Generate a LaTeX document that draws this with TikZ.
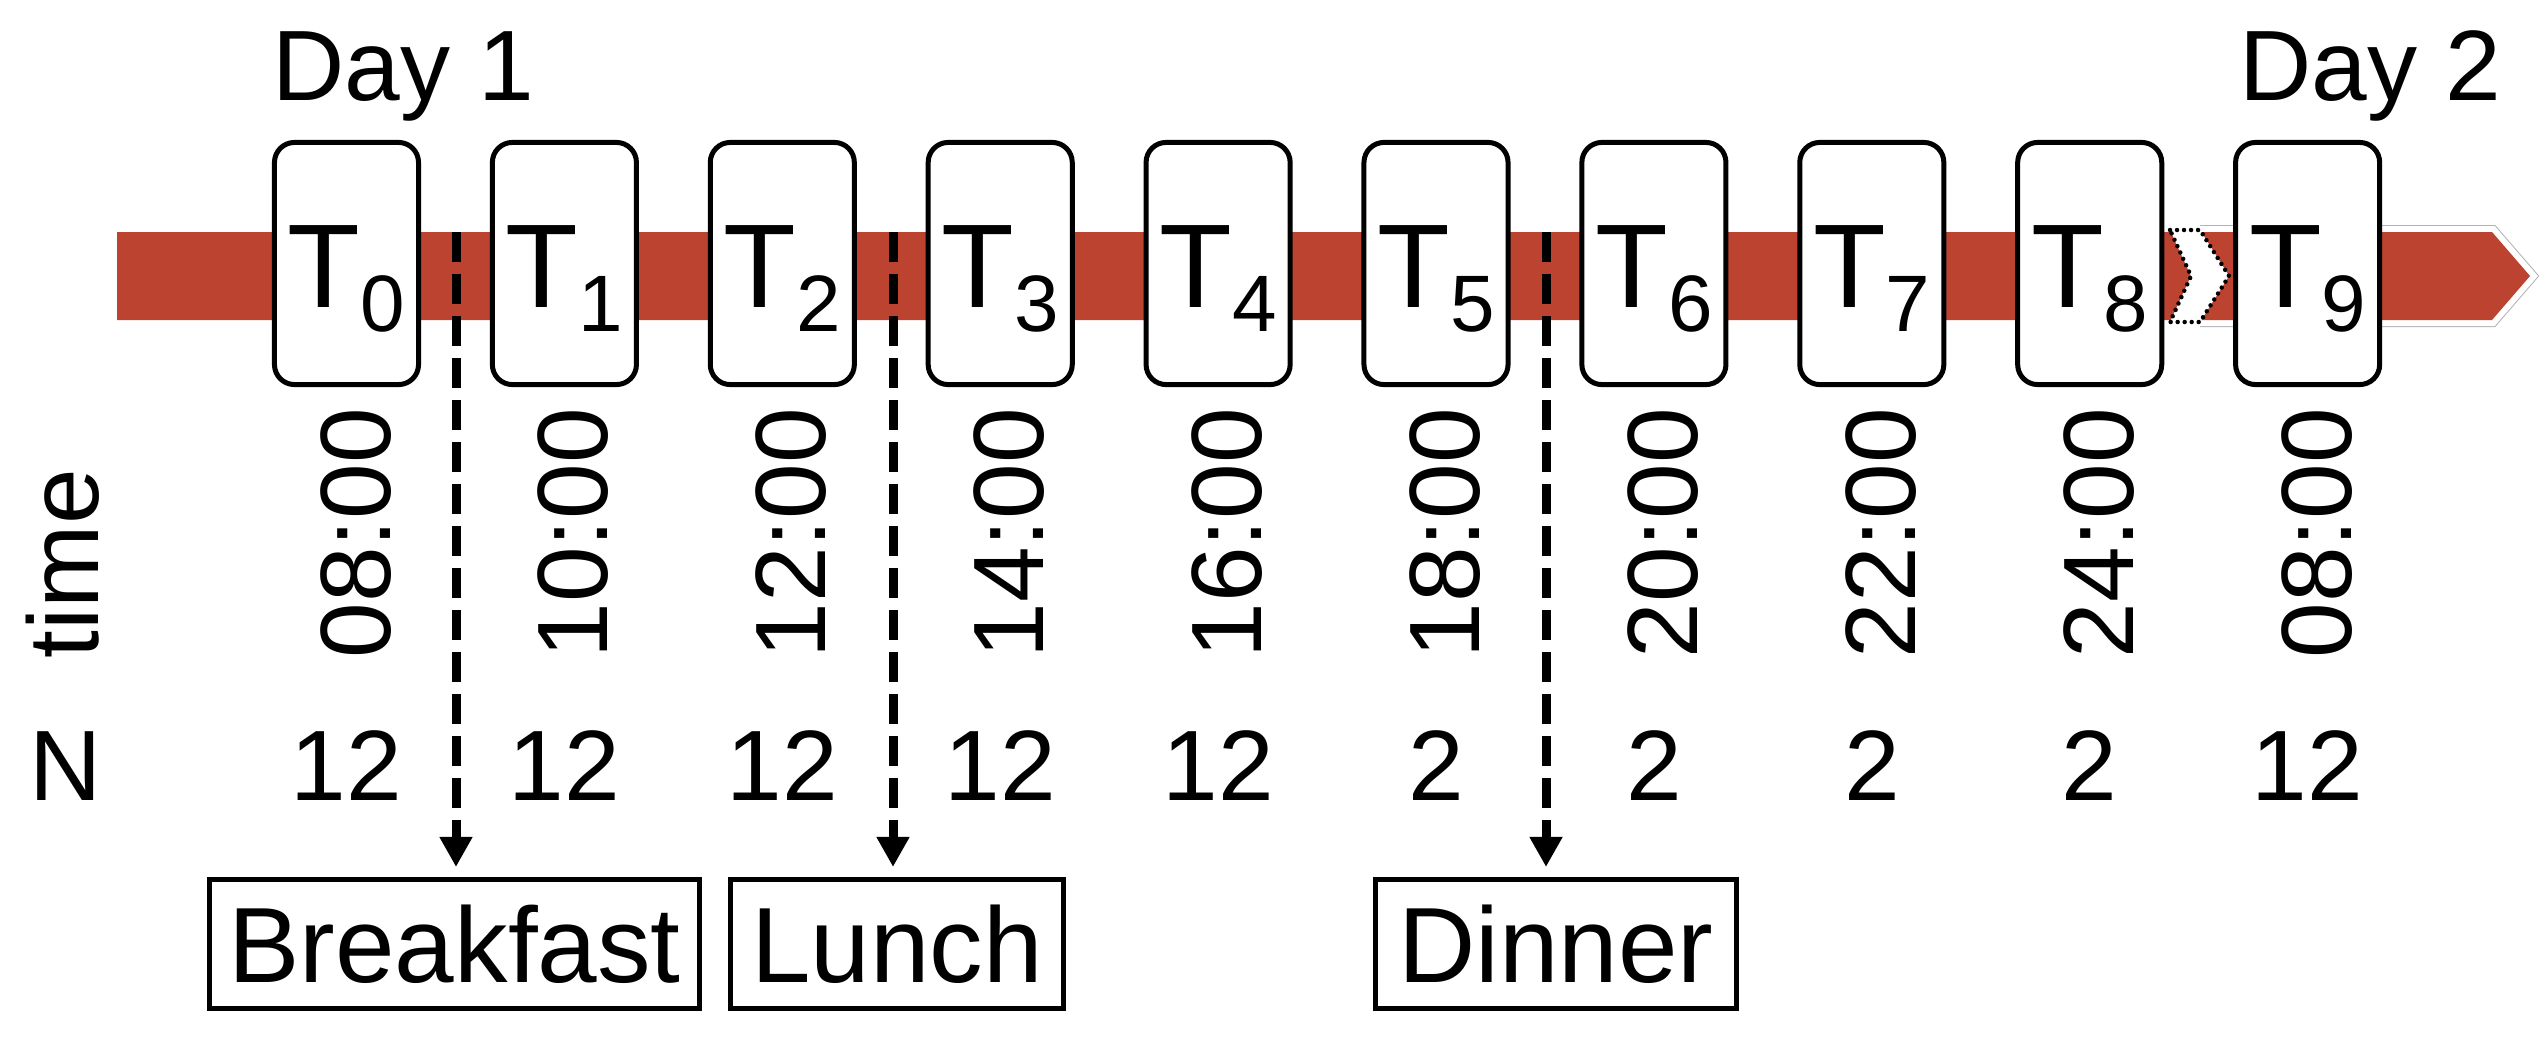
\documentclass[tikz,border=0pt]{standalone}
\usepackage{fontspec}
\setmainfont{Liberation Sans}
\usetikzlibrary{arrows.meta}
\definecolor{barred}{RGB}{189,67,49}
\newcommand\tsub[1]{\raisebox{-7.1pt}{\fontsize{22.76pt}{24pt}\selectfont #1}}
\begin{document}
\begin{tikzpicture}[x=0.01cm,y=-0.01cm,
 tbox/.style={draw,line width=0.05cm,rounded corners=0.2cm,fill=white,minimum width=1.44cm,minimum height=2.42cm,inner sep=0pt},
 tlab/.style={anchor=base,inner sep=0pt,font=\fontsize{33.86pt}{36pt}\selectfont},
 rlab/.style={rotate=90,anchor=base west,inner sep=0pt,font=\fontsize{28.45pt}{30pt}\selectfont},
 nlab/.style={anchor=base,inner sep=0pt,font=\fontsize{28.45pt}{30pt}\selectfont},
 daylab/.style={anchor=base west,inner sep=0pt,font=\fontsize{28.45pt}{30pt}\selectfont},
 meal/.style={draw,line width=0.05cm,minimum height=1.29cm,inner sep=0pt,font=\fontsize{30.44pt}{32pt}\selectfont},
 dasharrow/.style={line width=0.09cm,dash pattern=on 0.3cm off 0.12cm,-{Triangle[width=0.31cm,length=0.3cm]},shorten >=0.1cm},
 dotband/.style={fill=white,draw=black,line width=0.045cm,line cap=round,dash pattern=on 0pt off 0.07cm}
]
\useasboundingbox (0,0) rectangle (2540,1036);
% bar
\fill[barred] (117,232) -- (2172,232) -- (2192,276) -- (2172,320) -- (117,320) -- cycle;
\draw[black!30,line width=0.14cm,line join=miter] (2200,232) -- (2492,232) -- (2530,276) -- (2492,320) -- (2200,320);
\draw[white,line width=0.12cm,line join=miter] (2200,232) -- (2492,232) -- (2530,276) -- (2492,320) -- (2200,320);
\fill[barred] (2200,232) -- (2492,232) -- (2530,276) -- (2492,320) -- (2200,320) -- (2228,276) -- cycle;
\draw[dotband] (2170,230) -- (2200,230) -- (2229,276) -- (2200,322) -- (2170,322) -- (2191,276) -- cycle;
% days
\node[daylab] (day1) at (272,100) {Day 1};
\node[daylab] (day2) at (2239,100) {Day 2};
% row labels
\node[rlab] (timelab) at (98,659) {time};
\node[daylab] (nlab) at (29,800) {N};
% time steps
\foreach \i/\tm/\nn in {0/08:00/12,1/10:00/12,2/12:00/12,3/14:00/12,4/16:00/12,5/18:00/2,6/20:00/2,7/22:00/2,8/24:00/2,9/08:00/12}{
  \pgfmathsetmacro\cx{346.5+217.9*\i}
  \node[tbox] (t\i) at (\cx,263.5) {};
  \node[tlab] (tl\i) at (\cx,307) {T\tsub{\i}};
  \node[rlab] (tm\i) at (\cx+43.5,659) {\tm};
  \node[nlab] (n\i) at (\cx,800) {\nn};
}
% meals
\node[meal,minimum width=4.90cm] (bf) at (454.5,944) {Breakfast};
\node[meal,minimum width=3.33cm] (lu) at (897,944) {Lunch};
\node[meal,minimum width=3.61cm] (di) at (1556,944) {Dinner};
\coordinate (d1) at (456,232);
\coordinate (d2) at (893,232);
\coordinate (d3) at (1546,232);
\draw[dasharrow] (d1) -- (bf.north -| d1);
\draw[dasharrow] (d2) -- (lu.north -| d2);
\draw[dasharrow] (d3) -- (di.north -| d3);
\end{tikzpicture}
\end{document}
